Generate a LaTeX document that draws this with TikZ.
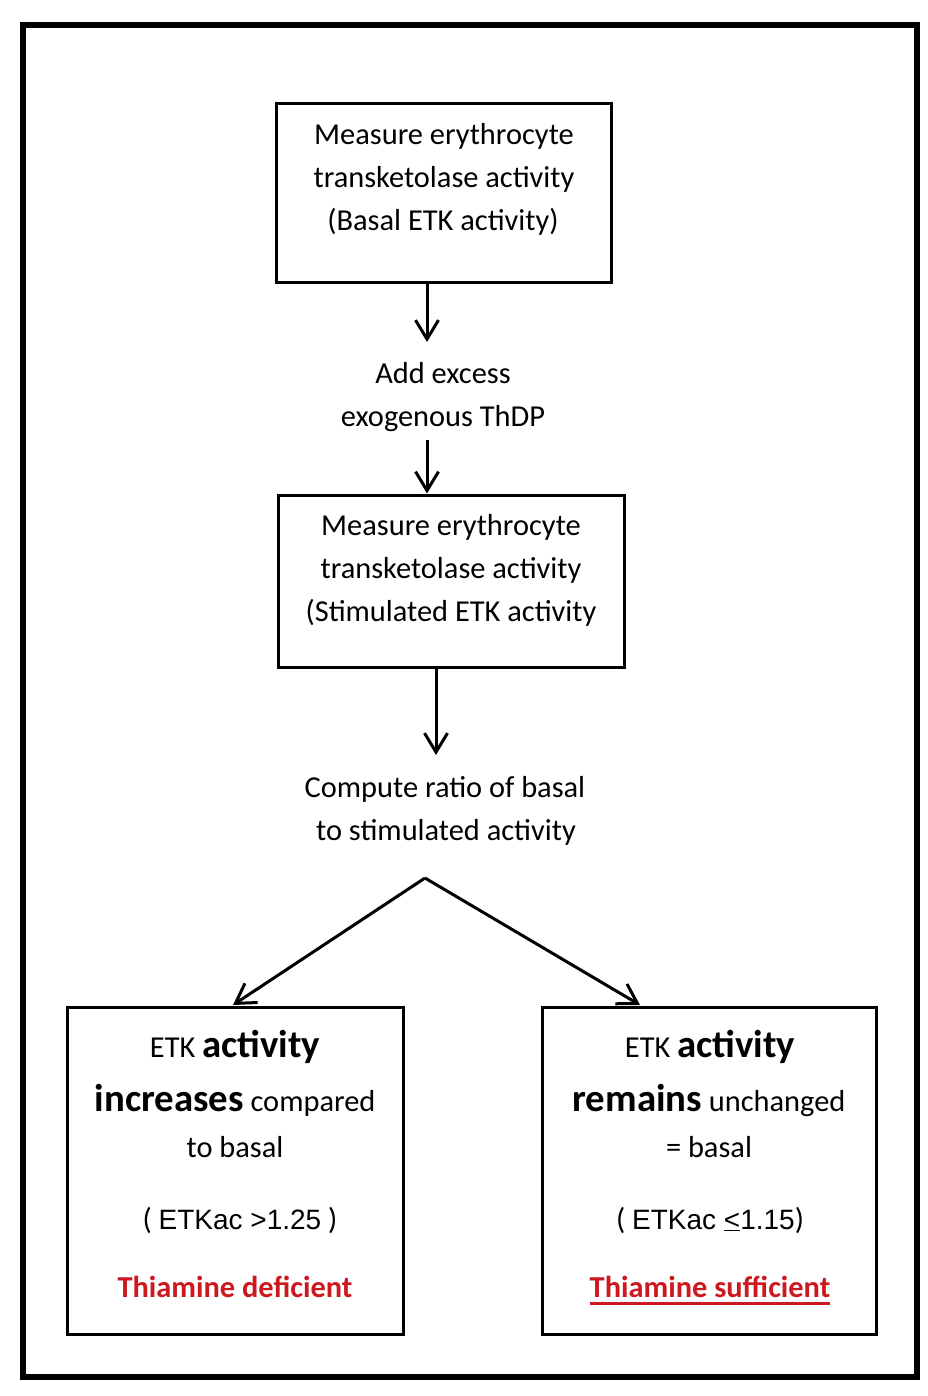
\documentclass[tikz,border=0pt]{standalone}
\usepackage{fontspec}
\setmainfont{Carlito}
\newfontfamily\arialf{Liberation Sans}
\usetikzlibrary{arrows.meta}
\definecolor{redtxt}{RGB}{205,25,30}
\tikzset{
  boxnode/.style={draw, line width=3pt, inner sep=0pt, rectangle},
  txt/.style={inner sep=0pt, anchor=base, font=\fontsize{30.4}{36}\selectfont},
  redtxtstyle/.style={txt, text=redtxt, font=\fontsize{30.4}{36}\selectfont\bfseries},
  arr/.style={line width=3pt, -{Straight Barb[length=19pt,width=23pt,line width=3pt]}},
  ulline/.style={draw=redtxt, line width=2.6pt},
}
\newcommand{\bigb}[1]{{\fontsize{38.8}{40}\selectfont\bfseries #1}}
\begin{document}
\begin{tikzpicture}[x=1pt,y=-1pt]
\useasboundingbox (0,0) rectangle (927,1396);
\fill[white] (0,0) rectangle (927,1396);
% outer frame
\draw[line width=6pt] (23,25) rectangle (917,1377);

% boxes
\node[boxnode, minimum width=335pt, minimum height=179pt] (box1) at (443.5,193.5) {};
\node[boxnode, minimum width=346pt, minimum height=172pt] (box2) at (451,581) {};
\node[boxnode, minimum width=336pt, minimum height=327pt] (box3) at (235,1170.5) {};
\node[boxnode, minimum width=334pt, minimum height=327pt] (box4) at (709,1170.5) {};

% box 1 text
\node[txt] (b1a) at (444,145) {Measure erythrocyte};
\node[txt] (b1b) at (444,188) {transketolase activity};
\node[txt] (b1c) at (443,231) {(Basal ETK activity)};

% add excess
\node[txt] (ad1) at (443,383) {Add excess};
\node[txt] (ad2) at (443,426) {exogenous ThDP};

% box 2 text
\node[txt] (b2a) at (451,535) {Measure erythrocyte};
\node[txt] (b2b) at (451,578) {transketolase activity};
\node[txt] (b2c) at (451,621) {(Stimulated ETK activity};

% compute
\node[txt] (cp1) at (445,797) {Compute ratio of basal};
\node[txt] (cp2) at (446,840) {to stimulated activity};

% box 3 text
\node[txt] (b3a) at (235,1057) {ETK \bigb{activity}};
\node[txt] (b3b) at (235,1111) {\bigb{increases} compared};
\node[txt] (b3c) at (235,1157) {to basal};
\node[txt] (b3d) at (240,1229) {( {\arialf\fontsize{28}{30}\selectfont ETKac {}>1.25} )};
\node[redtxtstyle] (b3e) at (235,1297) {Thiamine deficient};

% box 4 text
\node[txt] (b4a) at (710,1057) {ETK \bigb{activity}};
\node[txt] (b4b) at (709,1111) {\bigb{remains} unchanged};
\node[txt] (b4c) at (709,1157) {= basal};
\node[txt] (b4d) at (710,1229) {( {\arialf\fontsize{28}{30}\selectfont ETKac \underline{<}1.15})};
\node[redtxtstyle] (b4e) at (710,1297) {Thiamine sufficient};
\draw[ulline] ([yshift=-6.5pt]b4e.base west) -- ([yshift=-6.5pt]b4e.base east);

% connector coordinates
\coordinate (a1) at (427,342);
\coordinate (a2s) at (427,440);
\coordinate (a3) at (436,755);
\coordinate (apex) at (425,878);
\coordinate (l3) at (233,1005);
\coordinate (r4) at (640,1005);

\draw[arr] (box1.south -| a1) -- (a1);
\draw[arr] (a2s) -- (box2.north -| a2s);
\draw[arr] (box2.south -| a3) -- (a3);
\draw[arr] (apex) -- (l3);
\draw[arr] (apex) -- (r4);
\end{tikzpicture}
\end{document}
